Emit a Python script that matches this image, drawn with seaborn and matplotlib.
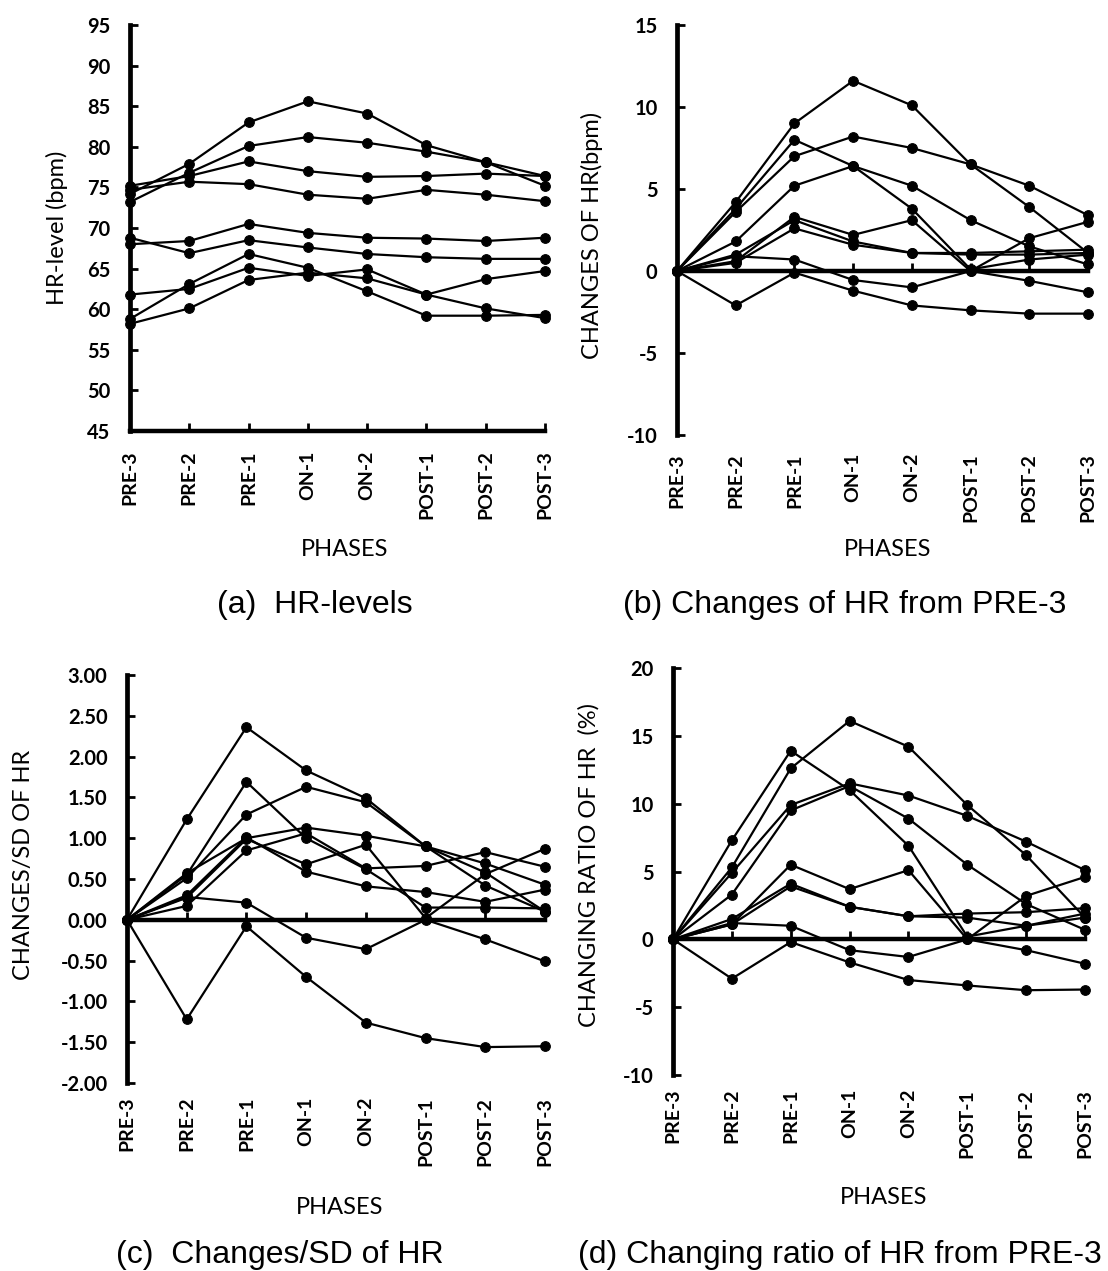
import matplotlib
matplotlib.use("Agg")
import matplotlib.pyplot as plt
import numpy as np
import pandas as pd
import seaborn as sns

# ---------------- data ----------------
phases = ["PRE-3", "PRE-2", "PRE-1", "ON-1", "ON-2", "POST-1", "POST-2", "POST-3"]
subjects = ["S1", "S2", "S3", "S4", "S5", "S6", "S7", "S8", "S9"]

# (a) HR-levels (bpm)
hr_levels = [
    [74.2, 77.9, 83.0, 85.6, 84.1, 80.2, 78.1, 75.2],
    [73.2, 76.8, 80.1, 81.2, 80.5, 79.4, 78.1, 76.4],
    [58.8, 63.1, 66.8, 65.1, 62.2, 59.2, 59.2, 59.3],
    [58.2, 60.1, 63.6, 64.5, 63.8, 61.8, 60.1, 58.9],
    [61.8, 62.5, 65.1, 64.1, 64.9, 61.8, 63.7, 64.7],
    [68.0, 68.4, 70.5, 69.4, 68.8, 68.7, 68.4, 68.8],
    [75.2, 76.4, 78.2, 77.0, 76.3, 76.4, 76.7, 76.4],
    [68.8, 66.9, 68.5, 67.6, 66.8, 66.4, 66.2, 66.2],
    [74.7, 75.7, 75.4, 74.1, 73.6, 74.7, 74.1, 73.3],
]

# (b) Changes of HR from PRE-3 (bpm)
hr_changes = [
    [0, 4.2, 9.0, 11.6, 10.1, 6.5, 3.9, 1.1],
    [0, 3.6, 7.0, 8.2, 7.5, 6.5, 5.2, 3.4],
    [0, 3.8, 8.0, 6.4, 3.8, 0.1, 0.7, 1.0],
    [0, 1.8, 5.2, 6.4, 5.2, 3.1, 1.5, 0.4],
    [0, 0.6, 3.3, 2.2, 3.1, 0.0, 2.0, 3.0],
    [0, 0.5, 2.6, 1.6, 1.1, 1.0, 1.0, 1.1],
    [0, 1.0, 3.1, 1.8, 1.1, 1.1, 1.2, 1.3],
    [0, -2.1, -0.1, -1.2, -2.1, -2.4, -2.6, -2.6],
    [0, 0.9, 0.7, -0.55, -1.0, 0.0, -0.6, -1.3],
]

# (c) Changes/SD of HR
hr_changes_sd = [
    [0, 0.51, 1.29, 1.63, 1.44, 0.90, 0.58, 0.10],
    [0, 0.57, 1.00, 1.13, 1.03, 0.90, 0.69, 0.43],
    [0, 1.23, 2.36, 1.83, 1.49, 0.90, 0.42, 0.10],
    [0, 0.55, 1.69, 1.00, 0.62, 0.15, 0.15, 0.14],
    [0, 0.27, 0.99, 0.68, 0.92, 0.02, 0.56, 0.87],
    [0, 0.17, 0.85, 1.06, 0.63, 0.66, 0.83, 0.65],
    [0, 0.30, 1.01, 0.59, 0.41, 0.34, 0.22, 0.37],
    [0, -1.22, -0.08, -0.70, -1.26, -1.45, -1.56, -1.55],
    [0, 0.28, 0.21, -0.22, -0.36, 0.00, -0.24, -0.51],
]

# (d) Changing ratio of HR from PRE-3 (%)
hr_ratio = [
    [0, 5.3, 12.6, 16.1, 14.2, 9.9, 6.2, 1.6],
    [0, 4.9, 9.9, 11.5, 10.6, 9.1, 7.2, 5.1],
    [0, 7.3, 13.9, 11.0, 6.9, 0.2, 1.0, 1.9],
    [0, 3.3, 9.5, 11.3, 8.9, 5.5, 2.6, 0.7],
    [0, 1.1, 5.5, 3.7, 5.1, 0.0, 3.2, 4.6],
    [0, 1.1, 3.9, 2.4, 1.7, 1.6, 1.0, 1.6],
    [0, 1.5, 4.1, 2.4, 1.7, 1.9, 2.0, 2.3],
    [0, -2.9, -0.2, -1.7, -3.0, -3.4, -3.75, -3.7],
    [0, 1.2, 1.0, -0.8, -1.3, 0.0, -0.8, -1.8],
]

# ---------------- style ----------------
sns.set_style("white")
plt.rcParams["font.family"] = ["Lato", "DejaVu Sans"]
plt.rcParams["axes.unicode_minus"] = False
plt.rcParams["text.color"] = "black"
plt.rcParams["axes.labelcolor"] = "black"
plt.rcParams["xtick.color"] = "black"
plt.rcParams["ytick.color"] = "black"

W, H = 1108, 1271
fig = plt.figure(figsize=(W / 100, H / 100), dpi=100)
fig.patch.set_facecolor("white")

TICK_W = "bold"


def long_df(values):
    rows = []
    for s, series in zip(subjects, values):
        for i, v in enumerate(series):
            rows.append({"subject": s, "phase": i, "value": v})
    return pd.DataFrame(rows)


def px_axes(x0, x1, ytop, ybot):
    return fig.add_axes([x0 / W, 1 - ybot / H, (x1 - x0) / W, (ybot - ytop) / H])


def panel(box, values, ylim, yticks, yfmt, zero_line, ylabel, ylab_xy,
          phases_xy, title, title_xy, xlabel_pad):
    ax = px_axes(*box)
    df = long_df(values)
    sns.lineplot(data=df, x="phase", y="value", units="subject", estimator=None,
                 color="black", linewidth=1.6, marker="o", markersize=7,
                 markeredgecolor="black", markerfacecolor="black",
                 sort=False, legend=False, ax=ax, clip_on=False, zorder=3)
    ax.set_xlim(0, 7)
    ax.set_ylim(*ylim)
    ax.set_yticks(yticks)
    ax.set_yticklabels([yfmt.format(t) for t in yticks], fontsize=14.5,
                       fontweight=TICK_W, color="black")
    ax.set_xticks(range(len(phases)))
    ax.set_xticklabels(phases, rotation=90, fontsize=14, fontweight=TICK_W,
                       color="black")
    ax.set_xlabel("")
    ax.set_ylabel("")
    for s in ["top", "right"]:
        ax.spines[s].set_visible(False)
    ax.spines["left"].set_linewidth(3.4)
    ax.spines["left"].set_color("black")
    ax.tick_params(axis="y", direction="in", length=6, width=2, pad=14,
                   colors="black", left=True)
    if zero_line:
        ax.spines["bottom"].set_visible(False)
        ax.tick_params(axis="x", length=0, pad=xlabel_pad, bottom=True)
        frac = (0 - ylim[0]) / (ylim[1] - ylim[0])
        sec = ax.secondary_xaxis(frac)
        sec.set_xticks(range(len(phases)))
        sec.tick_params(axis="x", direction="in", length=6, width=2,
                        colors="black", labelbottom=False, labeltop=False)
        sec.spines["bottom"].set_linewidth(3.2)
        sec.spines["bottom"].set_color("black")
    else:
        ax.spines["bottom"].set_linewidth(3.2)
        ax.spines["bottom"].set_color("black")
        ax.tick_params(axis="x", direction="in", length=6, width=2,
                       colors="black", pad=xlabel_pad, bottom=True)
    fig.text(ylab_xy[0] / W, 1 - ylab_xy[1] / H, ylabel, rotation=90,
             ha="center", va="center", fontsize=17, color="black")
    fig.text(phases_xy[0] / W, 1 - phases_xy[1] / H, "PHASES",
             ha="center", va="center", fontsize=17, color="black")
    fig.text(title_xy[0] / W, 1 - title_xy[1] / H, title, ha="center",
             va="center", fontsize=23, color="black",
             family=["Liberation Sans", "DejaVu Sans"])
    return ax


panel((130, 545, 25, 431), hr_levels, (45, 95), list(range(45, 96, 5)), "{:d}",
      False, "HR-level (bpm)", (57, 228), (345, 550), "(a)  HR-levels",
      (315, 605), 14)

panel((677, 1088, 25, 435), hr_changes, (-10, 15), list(range(-10, 16, 5)),
      "{:d}", True, "CHANGES OF HR(bpm)", (592, 235), (888, 550),
      "(b) Changes of HR from PRE-3", (845, 605), 13)

panel((127, 545, 675, 1083), hr_changes_sd, (-2, 3),
      [round(v, 2) for v in np.arange(-2.0, 3.01, 0.5)], "{:.2f}", True,
      "CHANGES/SD OF HR", (24, 865), (340, 1207), "(c)  Changes/SD of HR",
      (280, 1255), 10)

panel((673, 1085, 668, 1075), hr_ratio, (-10, 20), list(range(-10, 21, 5)),
      "{:d}", True, "CHANGING RATIO OF HR  (%)", (589, 865), (884, 1197),
      "(d) Changing ratio of HR from PRE-3", (840, 1255), 10)

fig.savefig("out.png", dpi=100, facecolor="white")
